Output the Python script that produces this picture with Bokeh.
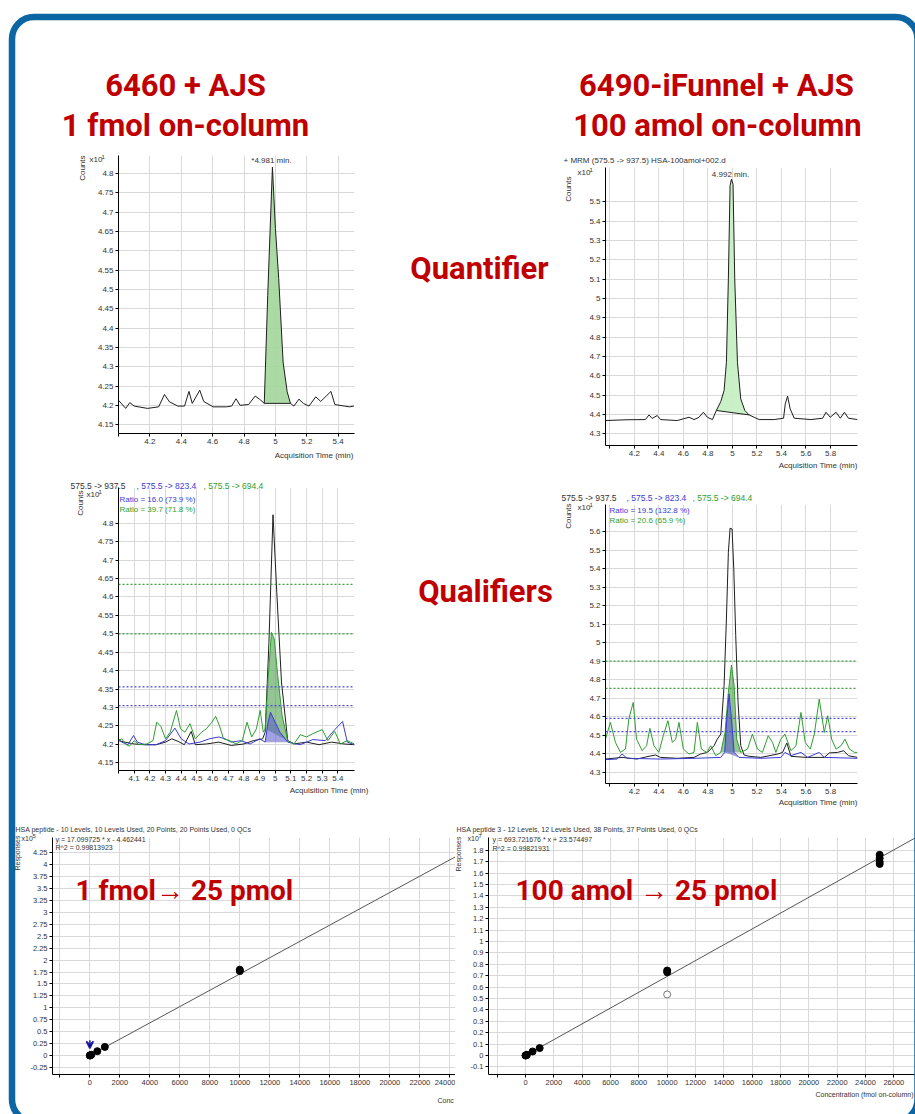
import numpy as np
from bokeh.plotting import figure
from bokeh.layouts import column, row
from bokeh.models import (Range1d, Label, FixedTicker, CustomJSTickFormatter, Spacer, Span, BoxAnnotation,
                          Arrow, VeeHead)
from bokeh.embed import file_html
from bokeh.resources import INLINE

# ---------------- data ----------------
# 6460 quantifier (top left)
tl_time = [4.00, 4.046, 4.072, 4.10, 4.185, 4.256, 4.293, 4.325, 4.378, 4.421, 4.449, 4.47, 4.518, 4.543,
           4.603, 4.689, 4.721, 4.749, 4.775, 4.829, 4.871, 4.899, 4.929, 4.951, 4.981, 5.0, 5.021, 5.049,
           5.075, 5.096, 5.118, 5.15, 5.178, 5.214, 5.257, 5.289, 5.354, 5.379, 5.439, 5.472, 5.50]
tl_counts = [4.213, 4.192, 4.207, 4.198, 4.192, 4.196, 4.228, 4.209, 4.198, 4.198, 4.236, 4.205, 4.239, 4.21,
             4.196, 4.196, 4.198, 4.217, 4.2, 4.202, 4.224, 4.216, 4.205, 4.485, 4.817, 4.658, 4.528, 4.312,
             4.235, 4.205, 4.198, 4.216, 4.205, 4.198, 4.222, 4.21, 4.236, 4.202, 4.198, 4.196, 4.198]
tl_peak = [4.929, 5.096]
tl_rt_label = "*4.981 min."

# 6490 quantifier (top right)
tr_time = [3.965, 4.14, 4.29, 4.32, 4.346, 4.387, 4.414, 4.55, 4.646, 4.687, 4.728, 4.763, 4.796, 4.837,
           4.869, 4.905, 4.932, 4.951, 4.967, 4.981, 4.992, 5.005, 5.019, 5.041, 5.068, 5.101, 5.136, 5.177,
           5.218, 5.341, 5.417, 5.431, 5.45, 5.471, 5.504, 5.64, 5.736, 5.763, 5.798, 5.845, 5.88, 5.913,
           5.946, 6.02]
tr_counts = [4.369, 4.373, 4.374, 4.398, 4.38, 4.395, 4.374, 4.369, 4.386, 4.374, 4.386, 4.412, 4.386, 4.374,
             4.421, 4.467, 4.524, 4.670, 5.101, 5.583, 5.617, 5.591, 5.101, 4.670, 4.481, 4.421, 4.398, 4.386,
             4.374, 4.374, 4.381, 4.455, 4.495, 4.429, 4.381, 4.374, 4.381, 4.412, 4.386, 4.412, 4.381, 4.412,
             4.381, 4.374]
tr_peak = [4.869, 5.136]
tr_rt_label = "4.992 min."

# 6460 qualifiers (middle left)
ml_black_t = [4.0, 4.04, 4.10, 4.16, 4.24, 4.30, 4.34, 4.38, 4.42, 4.464, 4.49, 4.56, 4.64, 4.72, 4.80, 4.86,
              4.92, 4.936, 4.96, 4.986, 5.01, 5.04, 5.08, 5.12, 5.20, 5.28, 5.36, 5.44, 5.506]
ml_black_y = [4.21, 4.206, 4.201, 4.199, 4.199, 4.206, 4.215, 4.208, 4.199, 4.235, 4.199, 4.201, 4.206, 4.197,
              4.201, 4.21, 4.215, 4.233, 4.477, 4.823, 4.613, 4.369, 4.21, 4.201, 4.206, 4.199, 4.206, 4.201, 4.199]
ml_green_t = [4.0, 4.02, 4.05, 4.07, 4.10, 4.13, 4.18, 4.22, 4.244, 4.27, 4.30, 4.33, 4.37, 4.396, 4.424, 4.456,
              4.49, 4.53, 4.56, 4.596, 4.62, 4.644, 4.67, 4.71, 4.75, 4.79, 4.82, 4.85, 4.88, 4.904, 4.924, 4.936,
              4.956, 4.976, 4.994, 5.016, 5.044, 5.08, 5.12, 5.16, 5.20, 5.24, 5.30, 5.336, 5.38, 5.416, 5.46,
              5.48, 5.506]
ml_green_y = [4.21, 4.215, 4.199, 4.195, 4.21, 4.199, 4.201, 4.21, 4.26, 4.249, 4.215, 4.233, 4.292, 4.242,
              4.233, 4.256, 4.215, 4.233, 4.242, 4.26, 4.276, 4.251, 4.215, 4.21, 4.201, 4.21, 4.26, 4.22, 4.242,
              4.292, 4.233, 4.242, 4.387, 4.504, 4.486, 4.387, 4.278, 4.21, 4.201, 4.226, 4.22, 4.229, 4.24,
              4.21, 4.235, 4.201, 4.21, 4.206, 4.201]
ml_blue_t = [4.0, 4.02, 4.06, 4.096, 4.12, 4.17, 4.24, 4.30, 4.36, 4.40, 4.45, 4.52, 4.58, 4.64, 4.68, 4.72,
             4.78, 4.84, 4.90, 4.936, 4.954, 4.97, 5.0, 5.03, 5.08, 5.16, 5.24, 5.32, 5.38, 5.43, 5.46, 5.506]
ml_blue_y = [4.215, 4.206, 4.199, 4.224, 4.206, 4.199, 4.199, 4.21, 4.244, 4.215, 4.201, 4.206, 4.215, 4.22,
             4.215, 4.206, 4.21, 4.201, 4.215, 4.206, 4.26, 4.287, 4.26, 4.233, 4.206, 4.199, 4.213, 4.21, 4.24,
             4.262, 4.206, 4.199]
ml_green_peak = [4.936, 5.08]
ml_blue_peak = [4.936, 5.08]
ml_green_limits = [4.634, 4.50]
ml_blue_limits = [4.356, 4.305]
ml_ratio_blue = "Ratio = 16.0 (73.9 %)"
ml_ratio_green = "Ratio = 39.7 (71.8 %)"

# 6490 qualifiers (middle right)
mr_black_t = [3.965, 4.10, 4.22, 4.32, 4.373, 4.414, 4.55, 4.687, 4.74, 4.796, 4.85, 4.877, 4.905, 4.932,
              4.951, 4.967, 4.981, 4.997, 5.011, 5.027, 5.046, 5.068, 5.095, 5.136, 5.232, 5.368, 5.409, 5.444,
              5.477, 5.60, 5.75, 5.79, 5.858, 5.907, 5.946, 6.02]
mr_black_y = [4.371, 4.38, 4.371, 4.386, 4.393, 4.38, 4.375, 4.38, 4.398, 4.407, 4.443, 4.479, 4.506, 4.768,
              5.128, 5.488, 5.618, 5.614, 5.398, 5.038, 4.678, 4.443, 4.393, 4.386, 4.38, 4.398, 4.407, 4.458,
              4.386, 4.38, 4.38, 4.404, 4.407, 4.416, 4.389, 4.38]
mr_green_t = [3.965, 4.005, 4.046, 4.087, 4.128, 4.155, 4.191, 4.218, 4.264, 4.30, 4.327, 4.36, 4.40, 4.436,
              4.474, 4.51, 4.537, 4.564, 4.60, 4.646, 4.687, 4.714, 4.747, 4.79, 4.823, 4.864, 4.905, 4.94,
              4.967, 4.992, 5.014, 5.035, 5.068, 5.123, 5.163, 5.204, 5.245, 5.292, 5.327, 5.354, 5.395, 5.428,
              5.477, 5.518, 5.559, 5.594, 5.635, 5.668, 5.708, 5.749, 5.777, 5.809, 5.845, 5.886, 5.918, 5.954,
              5.995, 6.02]
mr_green_y = [4.479, 4.569, 4.461, 4.407, 4.425, 4.587, 4.677, 4.479, 4.416, 4.443, 4.537, 4.443, 4.407, 4.497,
              4.578, 4.461, 4.479, 4.569, 4.425, 4.398, 4.407, 4.569, 4.425, 4.407, 4.443, 4.389, 4.407, 4.515,
              4.732, 4.879, 4.768, 4.479, 4.407, 4.425, 4.506, 4.425, 4.407, 4.497, 4.461, 4.407, 4.479, 4.506,
              4.416, 4.443, 4.623, 4.461, 4.425, 4.506, 4.695, 4.515, 4.605, 4.479, 4.425, 4.443, 4.479, 4.425,
              4.407, 4.407]
mr_blue_t = [3.965, 4.06, 4.10, 4.142, 4.414, 4.687, 4.905, 4.937, 4.954, 4.973, 4.992, 5.014, 5.054, 5.232,
             5.395, 5.428, 5.477, 5.559, 5.613, 5.708, 5.749, 6.02]
mr_blue_y = [4.368, 4.371, 4.398, 4.375, 4.371, 4.375, 4.38, 4.407, 4.587, 4.723, 4.587, 4.407, 4.38, 4.375,
             4.38, 4.407, 4.389, 4.407, 4.38, 4.407, 4.38, 4.375]
mr_green_peak = [4.905, 5.068]
mr_blue_peak = [4.937, 5.054]
mr_green_limits = [4.90, 4.753]
mr_blue_limits = [4.591, 4.519]
mr_ratio_blue = "Ratio = 19.5 (132.8 %)"
mr_ratio_green = "Ratio = 20.6 (65.9 %)"

# calibration curves (responses shown in x10^5 and x10^7)
bl_conc = [0, 10, 50, 100, 500, 1000, 10000, 10000]
bl_resp = [0.0, 0.0, 0.005, 0.015, 0.09, 0.18, 1.80, 1.77]
bl_flag_conc = 0
bl_flag_resp = [0.32, 0.15]
bl_slope, bl_intercept, bl_scale = 17.099725, -4.462441, 1e5

br_conc = [0, 10, 50, 100, 500, 1000, 10000, 10000, 25000, 25000, 25000, 25000]
br_resp = [0.0, 0.0, 0.002, 0.006, 0.035, 0.065, 0.745, 0.73, 1.76, 1.73, 1.70, 1.68]
br_excl_conc = [10000]
br_excl_resp = [0.535]
br_slope, br_intercept, br_scale = 693.721676, 23.574497, 1e7

# tick values
tl_xticks = [4.0, 4.2, 4.4, 4.6, 4.8, 5.0, 5.2, 5.4]
tl_yticks = [4.15, 4.2, 4.25, 4.3, 4.35, 4.4, 4.45, 4.5, 4.55, 4.6, 4.65, 4.7, 4.75, 4.8]
tr_xticks = [4.0, 4.2, 4.4, 4.6, 4.8, 5.0, 5.2, 5.4, 5.6, 5.8]
tr_yticks = [4.3, 4.4, 4.5, 4.6, 4.7, 4.8, 4.9, 5.0, 5.1, 5.2, 5.3, 5.4, 5.5]
ml_xticks = [4.0, 4.1, 4.2, 4.3, 4.4, 4.5, 4.6, 4.7, 4.8, 4.9, 5.0, 5.1, 5.2, 5.3, 5.4]
ml_yticks = tl_yticks
mr_xticks = tr_xticks
mr_yticks = [4.3, 4.4, 4.5, 4.6, 4.7, 4.8, 4.9, 5.0, 5.1, 5.2, 5.3, 5.4, 5.5, 5.6]
bl_xticks = [-2000, 0, 2000, 4000, 6000, 8000, 10000, 12000, 14000, 16000, 18000, 20000, 22000, 24000]
bl_yticks = [-0.25, 0, 0.25, 0.5, 0.75, 1, 1.25, 1.5, 1.75, 2, 2.25, 2.5, 2.75, 3, 3.25, 3.5, 3.75, 4, 4.25]
br_xticks = [-2000, 0, 2000, 4000, 6000, 8000, 10000, 12000, 14000, 16000, 18000, 20000, 22000, 24000, 26000]
br_yticks = [-0.1, 0, 0.1, 0.2, 0.3, 0.4, 0.5, 0.6, 0.7, 0.8, 0.9, 1, 1.1, 1.2, 1.3, 1.4, 1.5, 1.6, 1.7, 1.8]

# ---------------- styling ----------------
RED = "#c00000"
BLUE_FRAME = "#0b66a3"
BIG = "Roboto"
SMALL = "Liberation Sans"
TXT = "#333333"
BLACK = "#1e1e1e"
GREEN = "#2e9e2e"
BLUE = "#3b3bd6"
W, H = 915, 1114


def base_fig(g, xr, yr, xticks, yticks, xlo, ylo=-1e9, label_size="8px"):
    p = figure(width=g["w"], height=g["h"], x_range=Range1d(*xr), y_range=Range1d(*yr),
               output_backend="svg", toolbar_location=None, tools="",
               min_border_left=g["bl"], min_border_right=g["br"],
               min_border_top=g["bt"], min_border_bottom=g["bb"])
    p.outline_line_color = None
    p.border_fill_color = "white"
    p.background_fill_color = "white"
    p.xaxis.ticker = FixedTicker(ticks=xticks)
    p.yaxis.ticker = FixedTicker(ticks=yticks)
    for ax, lo in ((p.xaxis[0], xlo), (p.yaxis[0], ylo)):
        ax.formatter = CustomJSTickFormatter(args=dict(lo=lo),
                                             code="if (tick < lo) return ''; return String(Number(tick.toFixed(4)));")
        ax.axis_line_color = "black"
        ax.major_tick_line_color = "black"
        ax.minor_tick_line_color = None
        ax.major_tick_out = 3
        ax.major_tick_in = 0
        ax.major_label_standoff = 2
        ax.major_label_text_font = SMALL
        ax.major_label_text_font_size = label_size
        ax.major_label_text_color = TXT
    p.xgrid.grid_line_color = "#d9d9d9"
    p.ygrid.grid_line_color = "#d9d9d9"
    return p


def fill_peak(p, t, y, window, color, alpha, edge=None):
    t = np.asarray(t)
    y = np.asarray(y)
    m = (t >= window[0] - 1e-9) & (t <= window[1] + 1e-9)
    ts, ys = t[m], y[m]
    base = np.interp(ts, [ts[0], ts[-1]], [ys[0], ys[-1]])
    p.varea(x=ts, y1=base, y2=ys, fill_color=color, fill_alpha=alpha)
    if edge:
        p.line(x=[ts[0], ts[-1]], y=[ys[0], ys[-1]], line_color=edge, line_width=1)


# ---------------- geometry (page pixels) ----------------
g_tl = dict(w=380, h=329, bl=118, br=26, bt=10, bb=41)
g_ml = dict(w=380, h=338, bl=116, br=12, bt=13, bb=42)
g_tr = dict(w=360, h=335, bl=50, br=58, bt=22, bb=35)
g_mr = dict(w=360, h=332, bl=50, br=58, bt=24, bb=29)
g_bl = dict(w=455, h=302, bl=52, br=0, bt=25, bb=40)
g_br = dict(w=460, h=302, bl=33, br=0, bt=25, bb=40)

# top left
tl = base_fig(g_tl, (4.0, 5.504), (4.127, 4.847), tl_xticks, tl_yticks, 4.1)
fill_peak(tl, tl_time, tl_counts, tl_peak, "#a3d69b", 0.9, edge=BLACK)
tl.line(tl_time, tl_counts, line_color=BLACK, line_width=1)

# top right
tr = base_fig(g_tr, (3.965, 6.02), (4.24, 5.677), tr_xticks, tr_yticks, 4.1)
fill_peak(tr, tr_time, tr_counts, tr_peak, "#c6efc3", 0.95, edge=BLACK)
tr.line(tr_time, tr_counts, line_color=BLACK, line_width=1)

# middle left
ml = base_fig(g_ml, (4.0, 5.506), (4.129, 4.897), ml_xticks, ml_yticks, 4.05)
for v in ml_green_limits:
    ml.add_layout(Span(location=v, dimension="width", line_color="#3f9f3f", line_dash="2 2", line_width=1.3))
for v in ml_blue_limits:
    ml.add_layout(Span(location=v, dimension="width", line_color="#4a4ad0", line_dash="2 2", line_width=1.3))
fill_peak(ml, ml_green_t, ml_green_y, ml_green_peak, "#4f9d4f", 0.6)
fill_peak(ml, ml_blue_t, ml_blue_y, ml_blue_peak, "#5555cc", 0.55)
ml.line(ml_black_t, ml_black_y, line_color=BLACK, line_width=1)
ml.line(ml_blue_t, ml_blue_y, line_color=BLUE, line_width=1)
ml.line(ml_green_t, ml_green_y, line_color=GREEN, line_width=1)

# middle right
mr = base_fig(g_mr, (3.965, 6.02), (4.239, 5.746), mr_xticks, mr_yticks, 4.1)
for v in mr_green_limits:
    mr.add_layout(Span(location=v, dimension="width", line_color="#3f9f3f", line_dash="2 2", line_width=1.3))
for v in mr_blue_limits:
    mr.add_layout(Span(location=v, dimension="width", line_color="#4a4ad0", line_dash="2 2", line_width=1.3))
fill_peak(mr, mr_green_t, mr_green_y, mr_green_peak, "#4f9d4f", 0.6)
fill_peak(mr, mr_blue_t, mr_blue_y, mr_blue_peak, "#5555cc", 0.55)
mr.line(mr_black_t, mr_black_y, line_color=BLACK, line_width=1)
mr.line(mr_green_t, mr_green_y, line_color=GREEN, line_width=1)
mr.line(mr_blue_t, mr_blue_y, line_color=BLUE, line_width=1)

# bottom left calibration
bl_xr = (-2489, 24378)
bl = base_fig(g_bl, bl_xr, (-0.399, 4.573), bl_xticks, bl_yticks, -1, label_size="7.5px")
bx = np.array([min(bl_conc), bl_xr[1]])
bl.line(bx, (bl_slope * bx + bl_intercept) / bl_scale, line_color="#555555", line_width=1)
bl.scatter(bl_conc, bl_resp, size=7, marker="circle", fill_color="black", line_color="black")
bl.add_layout(Arrow(x_start=bl_flag_conc, y_start=bl_flag_resp[0], x_end=bl_flag_conc, y_end=bl_flag_resp[1],
                    line_color="#1c1c9c", line_width=1.5,
                    end=VeeHead(size=7, line_color="#1c1c9c", line_width=1.5)))

# bottom right calibration
br_xr = (-2612, 27529)
br = base_fig(g_br, br_xr, (-0.167, 1.912), br_xticks, br_yticks, -1, label_size="7.5px")
rx = np.array([min(br_conc), br_xr[1]])
br.line(rx, (br_slope * rx + br_intercept) / br_scale, line_color="#555555", line_width=1)
br.scatter(br_excl_conc, br_excl_resp, size=7, marker="circle", fill_color="white", line_color="#777777")
br.scatter(br_conc, br_resp, size=7, marker="circle", fill_color="black", line_color="black")

# ---------------- overlay with all free texts and the frame ----------------
ov = figure(width=W, height=H, x_range=Range1d(0, W), y_range=Range1d(H, 0),
            output_backend="svg", toolbar_location=None, tools="",
            x_axis_type=None, y_axis_type=None,
            min_border_left=0, min_border_right=0, min_border_top=0, min_border_bottom=0,
            margin=(-H, 0, 0, 0))
ov.outline_line_color = None
ov.border_fill_color = None
ov.background_fill_color = None
ov.grid.visible = False


def t(x, y, text, size="8px", color=TXT, font=SMALL, align="left", angle=0.0, style="normal"):
    ov.add_layout(Label(x=x, y=y, text=text, text_font_size=size, text_color=color, text_font=font,
                        text_align=align, text_baseline="middle", angle=angle, text_font_style=style))


def big(x, y, text, align="center", size="31px"):
    t(x, y, text, size=size, color=RED, font=BIG, align=align, style="bold")


def counts(xc, ytop, xx, yx, exp="1", size="8px", name="Counts"):
    t(xc, ytop, name, size=size, angle=np.pi / 2, align="right")
    t(xx, yx, "x10", size=size)
    t(xx + (12 if size == "8px" else 11), yx - 3, exp, size="6px")


frame_kw = dict(left=11.5, right=917, top=16.5, bottom=1121, fill_color=None, fill_alpha=0,
                line_color=BLUE_FRAME, line_alpha=1.0, line_width=6.5)
if "border_radius" in BoxAnnotation.properties():
    frame_kw["border_radius"] = 22
ov.add_layout(BoxAnnotation(**frame_kw))

big(185, 85, "6460 + AJS")
big(185, 125, "1 fmol on-column")
big(716, 85, "6490-iFunnel + AJS")
big(717, 125, "100 amol on-column")
big(479, 268, "Quantifier")
big(485, 591, "Qualifiers")
big(75, 890, "1 fmol\u2192 25 pmol", align="left", size="28px")
big(515, 890, "100 amol \u2192 25 pmol", align="left", size="28px")

# top left texts
counts(82, 155, 89, 159)
t(271, 160, tl_rt_label, align="center")
t(353, 455, "Acquisition Time (min)", align="right")
# top right texts
t(563, 160, "+ MRM (575.5 -> 937.5) HSA-100amol+002.d")
counts(568, 176, 577, 172)
t(730, 174, tr_rt_label, align="center")
t(857, 465, "Acquisition Time (min)", align="right")
# middle left texts
t(70, 485, "575.5 -> 937.5", size="8.5px")
t(136, 485, ", 575.5 -> 823.4", color=BLUE, size="8.5px")
t(203, 485, ", 575.5 -> 694.4", color=GREEN, size="8.5px")
counts(80, 490, 86, 494)
t(119, 499, ml_ratio_blue, color=BLUE)
t(119, 509, ml_ratio_green, color=GREEN)
t(368, 790, "Acquisition Time (min)", align="right")
# middle right texts
t(561, 497, "575.5 -> 937.5", size="8.5px")
t(626, 497, ", 575.5 -> 823.4", color=BLUE, size="8.5px")
t(692, 497, ", 575.5 -> 694.4", color=GREEN, size="8.5px")
counts(568, 503, 577, 507)
t(609, 510, mr_ratio_blue, color=BLUE)
t(609, 520, mr_ratio_green, color=GREEN)
t(857, 802, "Acquisition Time (min)", align="right")
# bottom left texts
t(15, 829, "HSA peptide - 10 Levels, 10 Levels Used, 20 Points, 20 Points Used, 0 QCs", size="7px")
counts(17, 835, 21, 838, exp="5", size="7px", name="Responses")
t(55, 839, "y = 17.099725 * x - 4.462441", size="7px")
t(55, 847, "R^2 = 0.99813923", size="7px")
t(437, 1100, "Conc", size="7px")
# bottom right texts
t(456, 829, "HSA peptide 3 - 12 Levels, 12 Levels Used, 38 Points, 37 Points Used, 0 QCs", size="7px")
counts(458, 836, 467, 838, exp="7", size="7px", name="Responses")
t(492, 839, "y = 693.721676 * x + 23.574497", size="7px")
t(492, 848, "R^2 = 0.99821931", size="7px")
t(913, 1094, "Concentration (fmol on-column)", size="7px", align="right")

# ---------------- layout ----------------
content = column(Spacer(width=W, height=145),
                 row(column(tl, ml), Spacer(width=175, height=667), column(tr, mr)),
                 row(bl, br))
root = column(content, ov)

with open("out.html", "w") as f:
    f.write(file_html(root, INLINE, title="6460 vs 6490 sensitivity"))
